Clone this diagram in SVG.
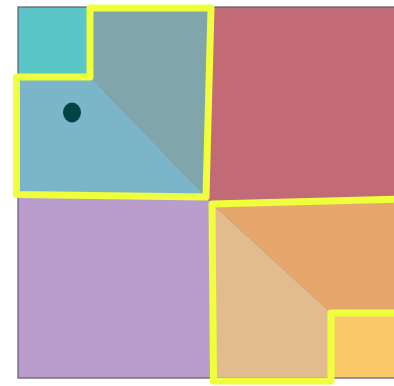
<svg xmlns="http://www.w3.org/2000/svg" width="394" height="386" viewBox="0 0 394 386">
<style>
.diag{stroke:#000;stroke-opacity:0.15;stroke-width:1;fill:none}
.hl{fill:none;stroke:#efff3c;stroke-width:7;stroke-linejoin:round}
</style>
<rect width="394" height="386" fill="#fff"/>
<g id="region-teal"><rect x="18" y="7" width="72" height="70" fill="#5bc6c8"/></g>
<g id="region-grayteal"><polygon points="90,7 211,7 206,197 90,77" fill="#80a5aa"/></g>
<g id="region-lightblue"><polygon points="18,77 90,77 206,197 18,196" fill="#7ab5c9"/></g>
<g id="region-red"><polygon points="211,7 400,7 400,200 209,204 206,197" fill="#c26a75"/></g>
<g id="region-purple"><polygon points="18,196 206,197 212,204 213,378 18,378" fill="#b99ecd"/></g>
<g id="region-orange"><polygon points="212,204 402,199 402,313 331,313" fill="#e6a76c"/></g>
<g id="region-tan"><polygon points="212,204 331,313 331,378 213,378" fill="#e2bb8e"/></g>
<g id="region-gold"><rect x="331" y="313" width="71" height="65" fill="#fbc96a"/></g>
<g id="frame"><rect x="18" y="7" width="384" height="371" fill="none" stroke="#5e5a6e" stroke-width="1.5" stroke-opacity="0.8"/></g>
<g id="connectors">
<line class="diag" x1="90" y1="77" x2="206" y2="197"/>
<line class="diag" x1="212" y1="204" x2="331" y2="313"/>
</g>
<g id="outline-top"><polygon class="hl" points="16.5,77 90,77 90,8 211,8 206,197 16.5,194.5"/></g>
<g id="outline-bottom"><polygon class="hl" points="212,204 404,199 404,313 331,313 331,381 213.5,381"/></g>
<g id="dot"><ellipse cx="72" cy="112.5" rx="9" ry="10" fill="#004545"/></g>
</svg>
